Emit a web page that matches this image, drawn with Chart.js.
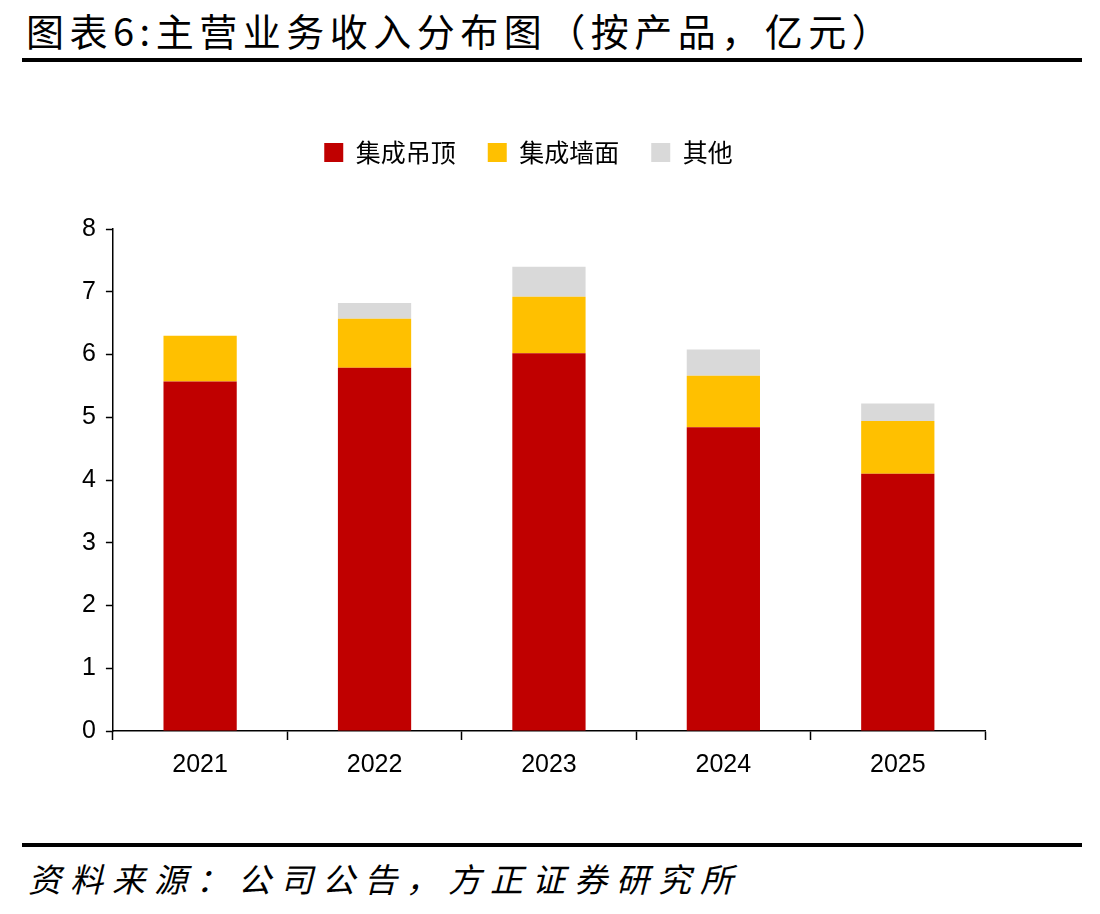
<!DOCTYPE html>
<html>
<head>
<meta charset="utf-8">
<script src="https://cdn.jsdelivr.net/npm/chart.js@4.4.0/dist/chart.umd.min.js"></script>
<style>
  body { margin: 0; background: #fff; width: 1100px; height: 914px; position: relative; font-family: "Noto Sans CJK SC", sans-serif; }
  #title { position: absolute; left: 26px; top: 2px; font-size: 38px; color: #000; letter-spacing: 5.5px; }
  .rule { position: absolute; left: 22px; width: 1060px; height: 4px; background: #000; }
  #chartBox { position: absolute; left: 0; top: 90px; width: 1100px; height: 710px; }
  #source { position: absolute; left: 28px; top: 854px; font-size: 33px; font-style: italic; color: #000; letter-spacing: 9px; }
</style>
</head>
<body>
<div id="title">图表6:主营业务收入分布图（按产品，亿元）</div>
<div class="rule" style="top:58px"></div>
<div id="chartBox"><canvas id="chart"></canvas></div>
<div class="rule" style="top:843px"></div>
<div id="source">资料来源：公司公告，方正证券研究所</div>
<script>
const years = ['2021', '2022', '2023', '2024', '2025'];
const ceiling = [5.57, 5.79, 6.02, 4.84, 4.10];
const wall = [0.73, 0.78, 0.90, 0.82, 0.84];
const others = [0, 0.25, 0.48, 0.42, 0.28];
const yTicks = [0, 1, 2, 3, 4, 5, 6, 7, 8];

// push the plot area down, away from the legend
const legendGap = {
  id: 'legendGap',
  beforeInit(chart) {
    const fit = chart.legend.fit;
    chart.legend.fit = function () {
      fit.bind(chart.legend)();
      this.height += 54;
    };
  }
};

const ctx = document.getElementById('chart').getContext('2d');
new Chart(ctx, {
  type: 'bar',
  data: {
    labels: years,
    datasets: [
      { label: '集成吊顶', data: ceiling, backgroundColor: '#C00000' },
      { label: '集成墙面', data: wall, backgroundColor: '#FFC000' },
      { label: '其他', data: others, backgroundColor: '#D9D9D9' }
    ]
  },
  options: {
    responsive: true,
    maintainAspectRatio: false,
    animation: false,
    layout: { padding: { left: 72, right: 115, top: 18, bottom: 10 } },
    datasets: { bar: { categoryPercentage: 1, barPercentage: 0.42 } },
    scales: {
      x: {
        stacked: true,
        offset: true,
        grid: { offset: true, drawOnChartArea: false, color: '#000', tickLength: 9, tickWidth: 1.5 },
        border: { color: '#000', width: 1.5 },
        ticks: { color: '#000', font: { family: 'Liberation Sans', size: 25 }, padding: 10 }
      },
      y: {
        stacked: true,
        min: 0,
        max: 8,
        afterBuildTicks: axis => { axis.ticks = yTicks.map(v => ({ value: v })); },
        grid: { drawOnChartArea: false, color: '#000', tickLength: 7, tickWidth: 1.5 },
        border: { color: '#000', width: 1.5 },
        ticks: { color: '#000', font: { family: 'Liberation Sans', size: 25 }, padding: 10 }
      }
    },
    plugins: {
      legend: {
        position: 'top',
        labels: {
          boxWidth: 19,
          boxHeight: 19,
          padding: 32,
          color: '#000',
          font: { family: 'Noto Sans CJK SC', size: 25 }
        }
      },
      tooltip: { enabled: false }
    }
  },
  plugins: [legendGap]
});
</script>
</body>
</html>
